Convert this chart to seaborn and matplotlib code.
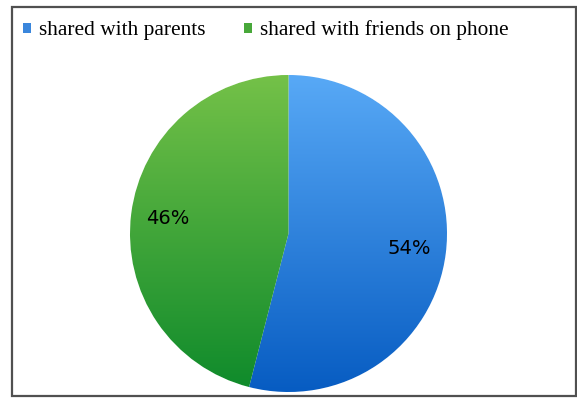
import numpy as np
import matplotlib
matplotlib.use("Agg")
import matplotlib.pyplot as plt
from matplotlib.patches import Patch, Rectangle
import seaborn as sns

categories = ["shared with parents", "shared with friends on phone"]
values = [54, 46]

sns.set_theme(style="white")
plt.rcParams["font.family"] = ["DejaVu Sans"]

W, H = 577, 399
fig = plt.figure(figsize=(W / 100, H / 100), dpi=100)
ax = fig.add_axes([0, 0, 1, 1])

cx, cy, r = 288.5, H - 233.5, 158.5
base_colors = ["#3A86DC", "#48A83A"]
wedges, texts, autotexts = ax.pie(
    values, colors=base_colors, startangle=90, counterclock=False,
    center=(cx, cy), radius=r, autopct="%d%%", pctdistance=0.77,
    textprops=dict(fontsize=14, color="black"), frame=True)
ax.set_xlim(0, W)
ax.set_ylim(0, H)
ax.axis("off")

# vertical gradients inside each wedge
grads = [("#58A9F6", "#075CC2"), ("#74C148", "#0E8A2B")]
for w, (top, bot) in zip(wedges, grads):
    c1 = np.array(matplotlib.colors.to_rgb(top))
    c2 = np.array(matplotlib.colors.to_rgb(bot))
    t = np.linspace(0, 1, 256)[:, None, None]
    img = c1 * (1 - t) + c2 * t
    img = np.repeat(img, 2, axis=1)
    im = ax.imshow(img, extent=(cx - r, cx + r, cy - r, cy + r), origin="upper",
                   aspect="auto", zorder=w.get_zorder() + 0.1, interpolation="bilinear")
    im.set_clip_path(w)
for t in autotexts:
    t.set_zorder(5)

# outer border
ax.add_patch(Rectangle((12, H - 396), 564, 389, fill=False, edgecolor="#505050",
                       lw=1.6, zorder=6))

handles = [Patch(facecolor=c, edgecolor="none") for c in base_colors]
leg = ax.legend(handles, categories, loc="upper left", bbox_to_anchor=(14.5 / W, 1 - 12 / H),
                ncol=2, frameon=False, handlelength=0.38, handleheight=0.38,
                handletextpad=0.38, columnspacing=1.78, borderaxespad=0,
                prop=dict(family="Liberation Serif", size=15.4))
for txt in leg.get_texts():
    txt.set_color("black")

fig.savefig("out.png", dpi=100)
